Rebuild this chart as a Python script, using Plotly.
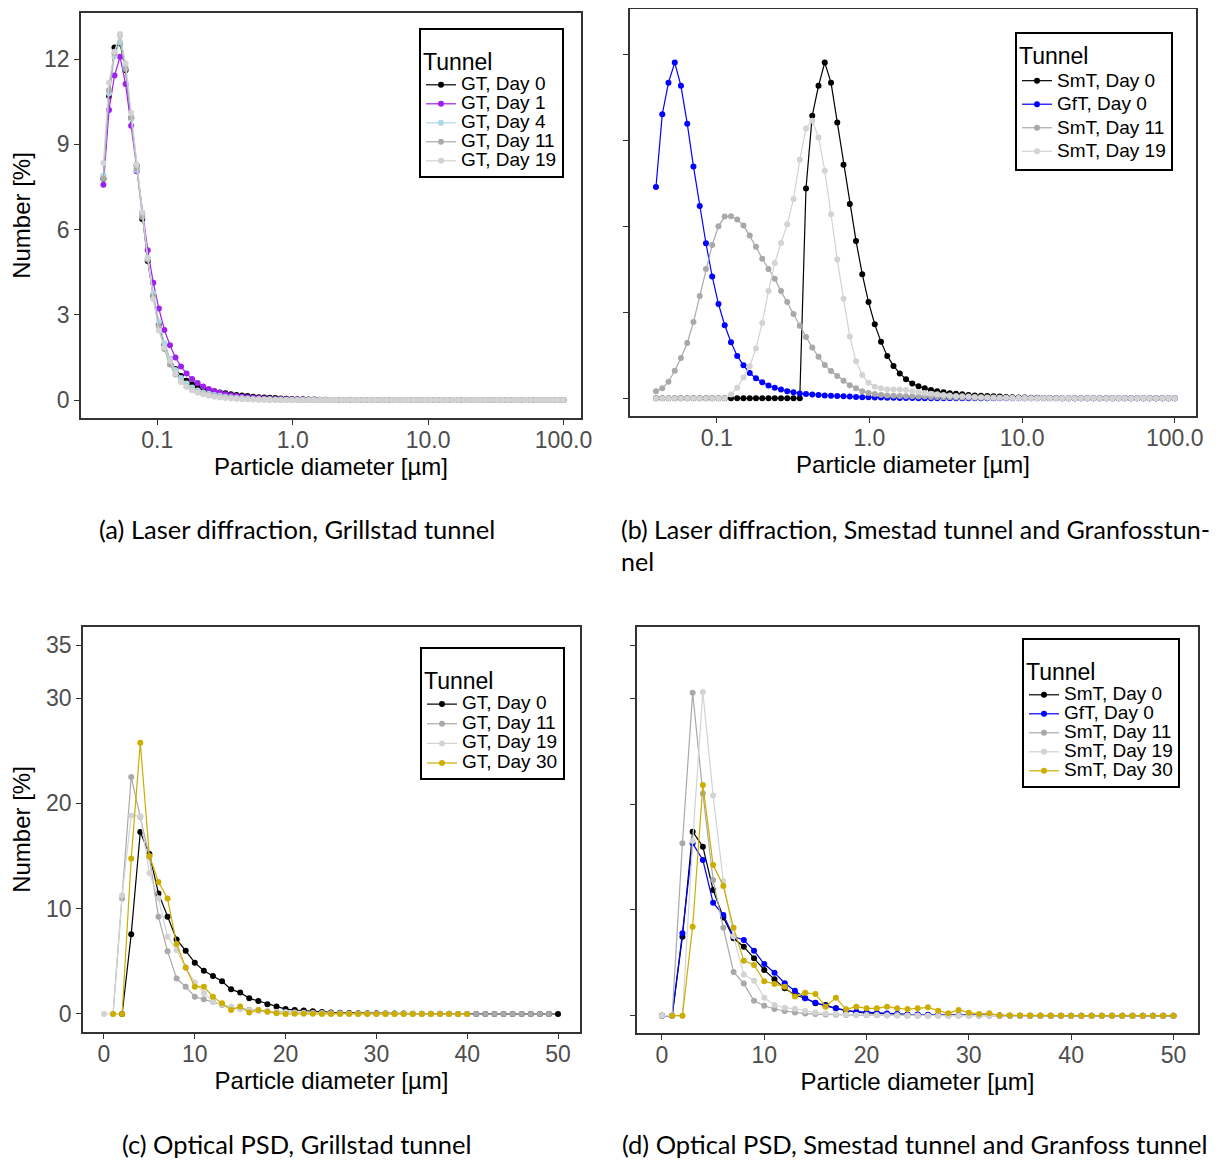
import plotly.graph_objects as go

# ---------------- data: laser diffraction (log-spaced size bins, µm) ----------------
LD_DIAM = [0.0400, 0.0440, 0.0483, 0.0531, 0.0583, 0.0641, 0.0704, 0.0774, 0.0850, 0.0934,
           0.1027, 0.1128, 0.1240, 0.1362, 0.1497, 0.1645, 0.1807, 0.1986, 0.2183, 0.2399,
           0.2636, 0.2896, 0.3183, 0.3498, 0.3843, 0.4223, 0.4641, 0.5100, 0.5604, 0.6158,
           0.6767, 0.7437, 0.8172, 0.8980, 0.9865, 1.084, 1.191, 1.309, 1.438, 1.580,
           1.737, 1.908, 2.097, 2.304, 2.532, 2.782, 3.057, 3.360, 3.692, 4.057,
           4.458, 4.898, 5.383, 5.915, 6.500, 7.142, 7.848, 8.624, 9.476, 10.41,
           11.44, 12.57, 13.82, 15.18, 16.69, 18.33, 20.15, 22.14, 24.32, 26.73,
           29.37, 32.27, 35.46, 38.96, 42.81, 47.05, 51.70, 56.81, 62.42, 68.59,
           75.37, 82.81, 91.00, 100.0]

# (a) Grillstad tunnel
GT_DAY0_LD = [7.79, 10.70, 12.41, 12.55, 11.61, 9.92, 8.25, 6.37, 4.89, 3.66,
              2.67, 1.96, 1.44, 1.09, 0.85, 0.68, 0.56, 0.47, 0.40, 0.35,
              0.31, 0.27, 0.24, 0.21, 0.18, 0.16, 0.14, 0.12, 0.10, 0.09,
              0.08, 0.07, 0.06, 0.05, 0.04, 0.03, 0.03, 0.02, 0.02, 0.01,
              0.01, 0, 0, 0, 0, 0, 0, 0, 0, 0,
              0, 0, 0, 0, 0, 0, 0, 0, 0, 0,
              0, 0, 0, 0, 0, 0, 0, 0, 0, 0,
              0, 0, 0, 0, 0, 0, 0, 0, 0, 0,
              0, 0, 0, 0]
GT_DAY1_LD = [7.58, 10.21, 11.42, 12.08, 11.12, 9.65, 8.05, 6.58, 5.27, 4.13,
              3.22, 2.47, 1.93, 1.50, 1.18, 0.94, 0.74, 0.60, 0.48, 0.39,
              0.32, 0.26, 0.21, 0.17, 0.14, 0.12, 0.10, 0.08, 0.07, 0.06,
              0.05, 0.04, 0.03, 0.03, 0.02, 0.02, 0.01, 0.01, 0, 0,
              0, 0, 0, 0, 0, 0, 0, 0, 0, 0,
              0, 0, 0, 0, 0, 0, 0, 0, 0, 0,
              0, 0, 0, 0, 0, 0, 0, 0, 0, 0,
              0, 0, 0, 0, 0, 0, 0, 0, 0, 0,
              0, 0, 0, 0]
GT_DAY4_LD = [7.90, 10.80, 12.10, 12.60, 11.70, 9.90, 8.10, 6.45, 5.00, 3.75,
              2.75, 2.00, 1.45, 1.06, 0.78, 0.58, 0.44, 0.34, 0.27, 0.22,
              0.18, 0.15, 0.12, 0.10, 0.08, 0.07, 0.06, 0.05, 0.04, 0.03,
              0.03, 0.02, 0.02, 0.01, 0.01, 0, 0, 0, 0, 0,
              0, 0, 0, 0, 0, 0, 0, 0, 0, 0,
              0, 0, 0, 0, 0, 0, 0, 0, 0, 0,
              0, 0, 0, 0, 0, 0, 0, 0, 0, 0,
              0, 0, 0, 0, 0, 0, 0, 0, 0, 0,
              0, 0, 0, 0]
GT_DAY11_LD = [7.80, 10.90, 12.20, 12.85, 11.65, 9.95, 8.15, 6.45, 4.95, 3.65,
               2.60, 1.80, 1.25, 0.90, 0.65, 0.48, 0.36, 0.28, 0.22, 0.17,
               0.14, 0.11, 0.09, 0.07, 0.06, 0.05, 0.04, 0.03, 0.02, 0.02,
               0.01, 0.01, 0, 0, 0, 0, 0, 0, 0, 0,
               0, 0, 0, 0, 0, 0, 0, 0, 0, 0,
               0, 0, 0, 0, 0, 0, 0, 0, 0, 0,
               0, 0, 0, 0, 0, 0, 0, 0, 0, 0,
               0, 0, 0, 0, 0, 0, 0, 0, 0, 0,
               0, 0, 0, 0]
GT_DAY19_LD = [8.34, 11.17, 12.26, 12.88, 11.85, 10.10, 8.28, 6.60, 5.00, 3.55,
               2.45, 1.85, 1.38, 0.94, 0.64, 0.47, 0.35, 0.27, 0.21, 0.16,
               0.12, 0.09, 0.07, 0.06, 0.05, 0.04, 0.03, 0.02, 0.02, 0.01,
               0.01, 0, 0, 0, 0, 0, 0, 0, 0, 0,
               0, 0, 0, 0, 0, 0, 0, 0, 0, 0,
               0, 0, 0, 0, 0, 0, 0, 0, 0, 0,
               0, 0, 0, 0, 0, 0, 0, 0, 0, 0,
               0, 0, 0, 0, 0, 0, 0, 0, 0, 0,
               0, 0, 0, 0]

# (b) Smestad tunnel and Granfosstunnel
SMT_DAY0_LD = [0, 0, 0, 0, 0, 0, 0, 0, 0, 0,
               0, 0, 0, 0, 0, 0, 0, 0, 0, 0,
               0, 0, 0, 0, 7.32, 9.86, 10.90, 11.71, 11.01, 9.62,
               8.15, 6.78, 5.49, 4.33, 3.36, 2.58, 1.97, 1.48, 1.13, 0.87,
               0.67, 0.52, 0.42, 0.35, 0.29, 0.25, 0.21, 0.18, 0.16, 0.14,
               0.12, 0.10, 0.09, 0.08, 0.07, 0.06, 0.05, 0.04, 0.03, 0.03,
               0.02, 0.02, 0.01, 0.01, 0.01, 0, 0, 0, 0, 0,
               0, 0, 0, 0, 0, 0, 0, 0, 0, 0,
               0, 0, 0, 0]
GFT_DAY0_LD = [7.37, 9.91, 11.01, 11.71, 10.90, 9.58, 8.09, 6.71, 5.41, 4.25,
               3.29, 2.55, 1.96, 1.48, 1.15, 0.88, 0.70, 0.56, 0.45, 0.37,
               0.31, 0.25, 0.21, 0.17, 0.15, 0.13, 0.12, 0.10, 0.09, 0.08,
               0.07, 0.06, 0.05, 0.04, 0.04, 0.03, 0.03, 0.02, 0.02, 0.01,
               0.01, 0.01, 0, 0, 0, 0, 0, 0, 0, 0,
               0, 0, 0, 0, 0, 0, 0, 0, 0, 0,
               0, 0, 0, 0, 0, 0, 0, 0, 0, 0,
               0, 0, 0, 0, 0, 0, 0, 0, 0, 0,
               0, 0, 0, 0]
SMT_DAY11_LD = [0.25, 0.35, 0.58, 0.96, 1.41, 1.93, 2.66, 3.57, 4.51, 5.35,
                6.00, 6.34, 6.35, 6.24, 6.03, 5.68, 5.29, 4.87, 4.51, 4.17,
                3.74, 3.36, 2.94, 2.53, 2.14, 1.77, 1.45, 1.16, 0.95, 0.78,
                0.61, 0.46, 0.35, 0.25, 0.19, 0.15, 0.12, 0.10, 0.09, 0.08,
                0.07, 0.07, 0.06, 0.06, 0.05, 0.05, 0.04, 0.04, 0.03, 0.03,
                0.03, 0.02, 0.02, 0.02, 0.01, 0.01, 0.01, 0.01, 0, 0,
                0, 0, 0, 0, 0, 0, 0, 0, 0, 0,
                0, 0, 0, 0, 0, 0, 0, 0, 0, 0,
                0, 0, 0, 0]
SMT_DAY19_LD = [0, 0, 0, 0, 0, 0, 0, 0, 0, 0,
                0, 0, 0.13, 0.37, 0.73, 1.12, 1.74, 2.63, 3.74, 4.72,
                5.42, 6.07, 6.95, 8.32, 9.41, 9.68, 9.10, 7.94, 6.42, 4.84,
                3.47, 2.16, 1.29, 0.81, 0.54, 0.40, 0.35, 0.32, 0.31, 0.31,
                0.29, 0.25, 0.22, 0.19, 0.16, 0.14, 0.12, 0.10, 0.08, 0.07,
                0.06, 0.05, 0.04, 0.03, 0.03, 0.02, 0.02, 0.01, 0.01, 0.01,
                0, 0, 0, 0, 0, 0, 0, 0, 0, 0,
                0, 0, 0, 0, 0, 0, 0, 0, 0, 0,
                0, 0, 0, 0]

# ---------------- data: optical PSD (1 µm bins) ----------------
OPT_DIAM = [0, 1, 2, 3, 4, 5, 6, 7, 8, 9, 10, 11, 12, 13, 14, 15, 16, 17, 18, 19, 20,
            21, 22, 23, 24, 25, 26, 27, 28, 29, 30, 31, 32, 33, 34, 35, 36, 37, 38, 39, 40,
            41, 42, 43, 44, 45, 46, 47, 48, 49, 50]

# (c) Grillstad tunnel
GT_DAY0_OPT = [None, None, 0, 7.58, 17.28, 15.20, 11.45, 9.23, 7.08, 6.00,
               4.87, 4.11, 3.61, 3.10, 2.34, 2.03, 1.49, 1.23, 0.92, 0.70,
               0.47, 0.38, 0.32, 0.25, 0.19, 0.15, 0.12, 0.10, 0.08, 0.07,
               0.06, 0.05, 0.04, 0.04, 0.03, 0.03, 0.02, 0.02, 0.02, 0.01,
               0.01, 0.01, 0, 0, 0, 0, 0, 0, 0, 0, 0]
GT_DAY11_OPT = [None, 0, 10.96, 22.50, 18.70, 14.90, 9.23, 5.97, 3.38, 2.59,
                1.64, 1.39, 1.17, 0.85, 0.63, 0.50, 0.40, 0.32, 0.26, 0.22,
                0.18, 0.15, 0.12, 0.10, 0.08, 0.07, 0.06, 0.05, 0.04, 0.04,
                0.03, 0.03, 0.02, 0.02, 0.02, 0.01, 0.01, 0.01, 0, 0,
                0, 0, 0, 0, 0, 0, 0, 0, 0, 0, None]
GT_DAY19_OPT = [0, 0, 11.28, 18.86, 18.77, 13.40, 11.00, 7.33, 6.07, 4.40,
                3.00, 2.00, 1.20, 0.90, 0.60, 0.45, 0.35, 0.28, 0.22, 0.18,
                0.14, 0.11, 0.09, 0.07, 0.06, 0.05, 0.04, 0.03, 0.03, 0.02,
                0.02, 0.01, 0.01, 0.01, 0, 0, 0, 0, 0, 0,
                0, None, None, None, None, None, None, None, None, None, None]
GT_DAY30_OPT = [None, 0, 0, 14.76, 25.75, 15.00, 12.54, 10.96, 6.64, 4.42,
                2.59, 2.59, 1.64, 1.01, 0.38, 0.70, 0.13, 0.38, 0.22, 0.06,
                0, 0.03, 0.02, 0.02, 0.01, 0.01, 0, 0, 0, 0,
                0, 0, 0, 0, 0, 0, 0, 0, 0, 0,
                0, None, None, None, None, None, None, None, None, None, None]

# (d) Smestad tunnel and Granfoss tunnel
SMT_DAY0_OPT = [0, 0, 7.47, 17.39, 15.97, 11.88, 9.29, 7.31, 6.52, 5.42,
                4.32, 3.43, 2.58, 1.95, 1.64, 1.17, 1.01, 0.69, 0.47, 0.32,
                0.25, 0.20, 0.15, 0.12, 0.10, 0.08, 0.06, 0.05, 0.04, 0.03,
                0.03, 0.02, 0.02, 0.01, 0, 0, 0, 0, 0, 0,
                0, 0, 0, 0, 0, 0, 0, 0, 0, 0, 0]
GFT_DAY0_OPT = [0, 0, 7.78, 16.29, 14.71, 10.68, 9.51, 7.47, 7.15, 6.14,
                4.88, 4.06, 3.06, 2.36, 1.64, 1.23, 0.91, 0.69, 0.47, 0.38,
                0.32, 0.25, 0.20, 0.15, 0.12, 0.10, 0.08, 0.06, 0.05, 0.04,
                0.03, 0.02, 0.02, 0.01, 0, 0, 0, 0, 0, 0,
                0, 0, 0, 0, 0, 0, 0, 0, 0, 0, 0]
SMT_DAY11_OPT = [0, 0, 16.29, 30.53, 21.00, 12.82, 8.30, 4.13, 3.03, 1.40,
                 0.93, 0.63, 0.44, 0.30, 0.20, 0.15, 0.10, 0.08, 0.06, 0.05,
                 0.04, 0.03, 0.02, 0.02, 0.01, 0, 0, 0, 0, 0,
                 0, 0, 0, 0, 0, 0, 0, 0, 0, 0,
                 0, 0, 0, 0, 0, 0, 0, 0, 0, 0, 0]
SMT_DAY19_OPT = [0, 0, 0, 16.50, 30.60, 20.80, 12.70, 7.50, 3.90, 3.30,
                 1.70, 1.00, 0.75, 0.65, 0.45, 0.30, 0.20, 0.15, 0.10, 0.08,
                 0.06, 0.05, 0.04, 0.03, 0.02, 0.01, 0, 0, 0, 0,
                 0, 0, 0, 0, 0, 0, 0, 0, 0, 0,
                 0, 0, 0, 0, 0, 0, 0, 0, 0, 0, 0]
SMT_DAY30_OPT = [None, 0, 0, 8.41, 21.80, 14.24, 12.26, 8.30, 5.20, 4.79,
                 3.25, 3.00, 2.74, 1.80, 2.17, 2.05, 0.85, 1.70, 0.60, 0.85,
                 0.69, 0.69, 0.85, 0.69, 0.63, 0.69, 0.79, 0.47, 0.22, 0.54,
                 0.28, 0.16, 0.22, 0.03, 0.02, 0.02, 0.01, 0.01, 0, 0,
                 0, 0, 0, 0, 0, 0, 0, 0, 0, 0, 0]

# tick labels
LOG_TICKS = [0.1, 1, 10, 100]
LOG_TICK_TEXT = ["0.1", "1.0", "10.0", "100.0"]
LD_Y_TICKS = [0, 3, 6, 9, 12]
OPT_X_TICKS = [0, 10, 20, 30, 40, 50]
OPT_Y_TICKS = [0, 10, 20, 30, 35]

# ---------------- styling ----------------
PAGE_MARGIN = 8          # the page places the figure 8 px from the top-left corner
W, H = 1219 - PAGE_MARGIN, 1160 - PAGE_MARGIN
FONT = "Liberation Sans"
CAP_FONT = "Lato"
C_BLACK, C_PURPLE, C_LBLUE = "#000000", "#A020F0", "#ADD8E6"
C_DGRAY, C_LGRAY, C_BLUE, C_GOLD = "#A9A9A9", "#D3D3D3", "#0000FF", "#CDAD00"


def px_x(p):
    return (p - PAGE_MARGIN) / W


def px_y(p):
    return 1 - (p - PAGE_MARGIN) / H


def item(label):
    return '<span style="font-size:19px">%s</span>' % label


fig = go.Figure()


def add(xs, ys, name, color, xa, ya, legend):
    fig.add_trace(go.Scatter(
        x=xs, y=ys, name=item(name), mode="lines+markers",
        line=dict(color=color, width=1.2),
        marker=dict(color=color, size=6),
        xaxis=xa, yaxis=ya, legend=legend, connectgaps=False,
        hoverinfo="skip"))


# (a)
add(LD_DIAM, GT_DAY0_LD, "GT, Day 0", C_BLACK, "x", "y", "legend")
add(LD_DIAM, GT_DAY1_LD, "GT, Day 1", C_PURPLE, "x", "y", "legend")
add(LD_DIAM, GT_DAY4_LD, "GT, Day 4", C_LBLUE, "x", "y", "legend")
add(LD_DIAM, GT_DAY11_LD, "GT, Day 11", C_DGRAY, "x", "y", "legend")
add(LD_DIAM, GT_DAY19_LD, "GT, Day 19", C_LGRAY, "x", "y", "legend")
# (b)
add(LD_DIAM, SMT_DAY0_LD, "SmT, Day 0", C_BLACK, "x2", "y2", "legend2")
add(LD_DIAM, GFT_DAY0_LD, "GfT, Day 0", C_BLUE, "x2", "y2", "legend2")
add(LD_DIAM, SMT_DAY11_LD, "SmT, Day 11", C_DGRAY, "x2", "y2", "legend2")
add(LD_DIAM, SMT_DAY19_LD, "SmT, Day 19", C_LGRAY, "x2", "y2", "legend2")
# (c)
add(OPT_DIAM, GT_DAY0_OPT, "GT, Day 0", C_BLACK, "x3", "y3", "legend3")
add(OPT_DIAM, GT_DAY11_OPT, "GT, Day 11", C_DGRAY, "x3", "y3", "legend3")
add(OPT_DIAM, GT_DAY19_OPT, "GT, Day 19", C_LGRAY, "x3", "y3", "legend3")
add(OPT_DIAM, GT_DAY30_OPT, "GT, Day 30", C_GOLD, "x3", "y3", "legend3")
# (d)
add(OPT_DIAM, SMT_DAY0_OPT, "SmT, Day 0", C_BLACK, "x4", "y4", "legend4")
add(OPT_DIAM, GFT_DAY0_OPT, "GfT, Day 0", C_BLUE, "x4", "y4", "legend4")
add(OPT_DIAM, SMT_DAY11_OPT, "SmT, Day 11", C_DGRAY, "x4", "y4", "legend4")
add(OPT_DIAM, SMT_DAY19_OPT, "SmT, Day 19", C_LGRAY, "x4", "y4", "legend4")
add(OPT_DIAM, SMT_DAY30_OPT, "SmT, Day 30", C_GOLD, "x4", "y4", "legend4")

axis_common = dict(showline=True, mirror=True, linecolor="#333333", linewidth=1.6,
                   showgrid=False, zeroline=False, ticks="outside", ticklen=5,
                   tickwidth=1.4, tickcolor="#333333", automargin=False,
                   tickfont=dict(family=FONT, size=23, color="#4D4D4D"))
xtitle = dict(text="Particle diameter [µm]", font=dict(family=FONT, size=24, color="#000000"),
              standoff=4)
ytitle = dict(text="Number [%]", font=dict(family=FONT, size=24, color="#000000"),
              standoff=10)

fig.update_layout(
    xaxis=dict(axis_common, type="log", range=[-1.5635, 2.129],
               tickvals=LOG_TICKS, ticktext=LOG_TICK_TEXT, ticklabelstandoff=-4,
               domain=[px_x(81), px_x(581)], anchor="y", title=xtitle),
    yaxis=dict(axis_common, range=[-0.63, 13.62], tickvals=LD_Y_TICKS,
               domain=[px_y(418), px_y(13)], anchor="x", title=ytitle),
    xaxis2=dict(axis_common, type="log", range=[-1.568, 2.139],
                tickvals=LOG_TICKS, ticktext=LOG_TICK_TEXT, ticklabelstandoff=-4,
                domain=[px_x(630), px_x(1196)], anchor="y2", title=xtitle),
    yaxis2=dict(axis_common, range=[-0.616, 13.58], tickvals=LD_Y_TICKS,
                showticklabels=False,
                domain=[px_y(416), px_y(9)], anchor="x2"),
    xaxis3=dict(axis_common, range=[-2.31, 52.42], tickvals=OPT_X_TICKS,
                ticklabelstandoff=-4,
                domain=[px_x(83), px_x(580)], anchor="y3", title=xtitle),
    yaxis3=dict(axis_common, range=[-1.71, 36.75], tickvals=OPT_Y_TICKS,
                domain=[px_y(1032), px_y(627)], anchor="x3", title=ytitle),
    xaxis4=dict(axis_common, range=[-2.44, 52.4], tickvals=OPT_X_TICKS,
                ticklabelstandoff=-4,
                domain=[px_x(637), px_x(1198)], anchor="y4", title=xtitle),
    yaxis4=dict(axis_common, range=[-1.64, 36.74], tickvals=OPT_Y_TICKS,
                showticklabels=False,
                domain=[px_y(1033), px_y(627)], anchor="x4"),
)


def legend_cfg(x, y, item_size, title_size):
    return dict(bgcolor="white", bordercolor="#000000", borderwidth=2,
                xanchor="left", yanchor="top", tracegroupgap=0,
                x=px_x(x), y=px_y(y),
                font=dict(family=FONT, size=item_size, color="#000000"),
                title=dict(text='<span style="font-size:23px">Tunnel</span>',
                           font=dict(family=FONT, size=title_size, color="#000000")))


fig.update_layout(
    legend=legend_cfg(419, 28, 12.3, 31),
    legend2=legend_cfg(1015, 32, 15.8, 23),
    legend3=legend_cfg(420, 647, 12.8, 31),
    legend4=legend_cfg(1022, 638, 12.3, 31),
)

captions = [
    dict(text="(a) Laser diffraction, Grillstad tunnel", x=px_x(297), y=px_y(529), xanchor="center", size=25.5),
    dict(text="(b) Laser diffraction, Smestad tunnel and Granfosstun-", x=px_x(619), y=px_y(529), xanchor="left", size=25),
    dict(text="nel", x=px_x(619), y=px_y(561), xanchor="left", size=25),
    dict(text="(c) Optical PSD, Grillstad tunnel", x=px_x(297), y=px_y(1144), xanchor="center", size=25.5),
    dict(text="(d) Optical PSD, Smestad tunnel and Granfoss tunnel", x=px_x(915), y=px_y(1144), xanchor="center", size=25.5),
]
fig.update_layout(annotations=[dict(text=c["text"], x=c["x"], y=c["y"], xanchor=c["xanchor"],
                                    xref="paper", yref="paper", yanchor="middle", showarrow=False,
                                    font=dict(family=CAP_FONT, size=c["size"], color="#000000"))
                               for c in captions])

fig.update_layout(width=W, height=H, margin=dict(l=0, r=0, t=0, b=0, autoexpand=False),
                  paper_bgcolor="white", plot_bgcolor="white",
                  font=dict(family=FONT), showlegend=True)

fig.write_html("out.html")
